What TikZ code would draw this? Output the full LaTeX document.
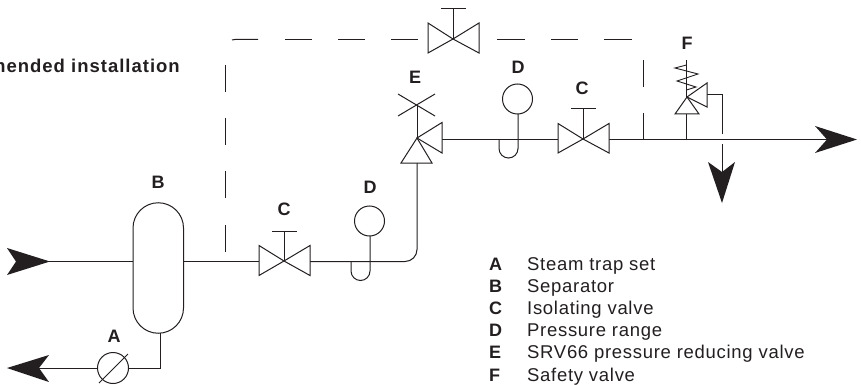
\documentclass[tikz,border=0pt]{standalone}
\usepackage{fontspec}
\setmainfont{Liberation Sans}
\newfontfamily\legfont[LetterSpace=3.8]{Liberation Sans}
\newfontfamily\titlefont[LetterSpace=5.4]{Liberation Sans}
\definecolor{ink}{HTML}{231F20}
\tikzset{
  x=1pt,y=-1pt,
  pipe/.style={draw=ink,line width=1pt,line join=miter},
  dashpipe/.style={draw=ink,line width=1pt},
  valvebody/.style={draw=ink,line width=1pt,fill=white,line join=miter},
  bigtip/.style={fill=ink,draw=none},
  tag/.style={font=\bfseries\fontsize{18}{18}\selectfont,text=ink,inner sep=0pt},
  legkey/.style={font=\bfseries\fontsize{18}{18}\selectfont,text=ink,inner sep=0pt,anchor=base west},
  legtext/.style={font=\legfont\fontsize{18.5}{18.5}\selectfont,text=ink,inner sep=0pt,anchor=base west},
}
\begin{document}
\begin{tikzpicture}
\path[use as bounding box] (0,0) rectangle (861,385);
\clip (0,0) rectangle (861,385);
% named points on the pipework
\coordinate (inS) at (48,261.5);
\coordinate (sepL) at (133,261.5);
\coordinate (sepR) at (183.5,261.5);
\coordinate (c1L) at (259,261.5);
\coordinate (c1R) at (310,261.5);
\coordinate (vE) at (417,163);
\coordinate (eR) at (442,139.5);
\coordinate (outS) at (828,139.5);
\draw[pipe] (inS) -- (sepL);
\draw[pipe] (sepR) -- (c1L);
\draw[pipe] (c1R) -- (405,261.5) arc[start angle=90,end angle=0,radius=12] -- (vE);
\draw[pipe] (eR) -- (outS);
% separator
\draw[valvebody] (133,228) arc[start angle=180,end angle=360,radius=25.25] -- (183.5,308) arc[start angle=0,end angle=180,radius=25.25] -- cycle;
% trap
\draw[pipe] (160,333) -- (160,368) -- (129,368);
\draw[pipe] (97,368) -- (38,368);
\draw[valvebody] (113,368) circle[radius=15.5];
\draw[pipe] (99,383) -- (128,354);
\draw[bigtip] (7,368) -- (49,355) -- (39,368) -- (49,382) -- cycle;
\draw[bigtip] (50,261.5) -- (7,248) -- (16,261.5) -- (7,275) -- cycle;
% valve C lower
\draw[valvebody] (284,261) -- (259,245.5) -- (259,275.5) -- cycle;
\draw[valvebody] (284,261) -- (310,245.5) -- (310,275.5) -- cycle;
\draw[pipe] (284,261) -- (284,231);
\draw[pipe] (272,231) -- (297,231);
% gauge lower
\draw[pipe] (351,261.5) -- (351,271) arc[start angle=180,end angle=0,radius=9.5] -- (370,236);
\draw[valvebody] (369.5,221) circle[radius=15];
% valve E
\draw[pipe] (417,138) -- (417,105);
\draw[pipe] (398,94) -- (435,116);
\draw[pipe] (398,116) -- (435,94);
\draw[valvebody] (417,138) -- (401,163) -- (432,163) -- cycle;
\draw[valvebody] (417,138) -- (442,122.5) -- (442,153) -- cycle;
% gauge upper
\draw[pipe] (499,139.5) -- (499,148.5) arc[start angle=180,end angle=0,radius=9.5] -- (518,114);
\draw[valvebody] (517.5,99) circle[radius=15];
% valve C upper
\draw[valvebody] (583,139) -- (558,123.5) -- (558,153) -- cycle;
\draw[valvebody] (583,139) -- (609,123.5) -- (609,153) -- cycle;
\draw[pipe] (583,139) -- (583,109);
\draw[pipe] (571,109) -- (596,109);
% bypass
\draw[dashpipe] (225.5,225) -- (225.5,252);
\draw[dashpipe] (225.5,171) -- (225.5,198);
\draw[dashpipe] (225.5,118) -- (225.5,145);
\draw[dashpipe] (225.5,65) -- (225.5,92);
\draw[dashpipe] (232,40) to[out=-10,in=180] (236,39.3) -- (258,39.3);
\draw[dashpipe] (285,39.3) -- (312,39.3) (338,39.3) -- (365,39.3) (391,39.3) -- (418,39.3);
\draw[dashpipe] (497,39.3) -- (525,39.3) (551,39.3) -- (578,39.3) (604,39.3) -- (632,39.3);
\draw[dashpipe] (643,60) -- (643,87);
\draw[dashpipe] (643,113) -- (643,139.5);
\draw[valvebody] (453,39) -- (428,23) -- (428,53) -- cycle;
\draw[valvebody] (453,39) -- (479,23) -- (479,53) -- cycle;
\draw[pipe] (453,39) -- (453,9);
\draw[pipe] (441,9) -- (466,9);
% safety valve
\draw[pipe] (686.5,139.5) -- (686.5,114);
\draw[pipe] (686.5,97) -- (686.5,60);
\draw[pipe,line width=.9pt] (686.5,65) -- (675,68) -- (698,74) -- (677,81) -- (696,87) -- (686.5,90);
\draw[valvebody] (687,97) -- (675,114) -- (699,114) -- cycle;
\draw[valvebody] (687,97) -- (707,83) -- (707,107) -- cycle;
\draw[pipe] (707,95) -- (722,95) -- (722,134);
\draw[pipe] (722,144) -- (722,175);
\draw[bigtip] (722,203) -- (708,162) -- (722,172) -- (735,162) -- cycle;
\draw[bigtip] (857,139.5) -- (815,126) -- (827,139.5) -- (815,153) -- cycle;
% labels
\node[tag] (lA) at (114,336) {A};
\node[tag] (lB) at (158,182) {B};
\node[tag] (lC1) at (284,209) {C};
\node[tag] (lD1) at (370,187) {D};
\node[tag] (lE) at (415,77) {E};
\node[tag] (lD2) at (518,67) {D};
\node[tag] (lC2) at (582,88) {C};
\node[tag] (lF) at (687,43) {F};
\node[font=\titlefont\bfseries\fontsize{18.5}{18.5}\selectfont,text=ink,inner sep=0pt,anchor=base east] (title) at (180,72.5) {Recommended installation};
% legend
\node[legkey] (kA) at (489,270) {A}; \node[legtext] (tA) at (527,270) {Steam trap set};
\node[legkey] (kB) at (489,292) {B}; \node[legtext] (tB) at (527,292) {Separator};
\node[legkey] (kC) at (489,314) {C}; \node[legtext] (tC) at (527,314) {Isolating valve};
\node[legkey] (kD) at (489,336.5) {D}; \node[legtext] (tD) at (527,336.5) {Pressure range};
\node[legkey] (kE) at (489,358.5) {E}; \node[legtext] (tE) at (527,358.5) {SRV66 pressure reducing valve};
\node[legkey] (kF) at (489,381) {F}; \node[legtext] (tF) at (527,381) {Safety valve};
\end{tikzpicture}
\end{document}
